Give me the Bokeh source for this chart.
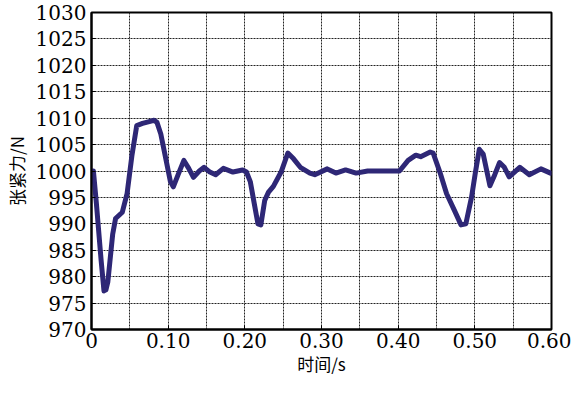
from bokeh.plotting import figure
from bokeh.models import FixedTicker, CustomJSTickFormatter, Range1d, InlineStyleSheet
from bokeh.embed import file_html
from bokeh.resources import INLINE

# time (s) and tension (N)
t = [0.0, 0.0025, 0.0063, 0.0126, 0.0163, 0.0188, 0.0213, 0.0276, 0.0314, 0.0402,
     0.0464, 0.0527, 0.0590, 0.0665, 0.0741, 0.0816, 0.0854, 0.0904, 0.0979, 0.1029,
     0.1067, 0.1130, 0.1205, 0.1268, 0.1330, 0.1406, 0.1469, 0.1544, 0.1619, 0.1720,
     0.1845, 0.1971, 0.2021, 0.2071, 0.2121, 0.2171, 0.2209, 0.2259, 0.2309, 0.2372,
     0.2473, 0.2561, 0.2636, 0.2724, 0.2849, 0.2912, 0.3075, 0.3188, 0.3314, 0.3452,
     0.3602, 0.4017, 0.4130, 0.4230, 0.4293, 0.4418, 0.4456, 0.4544, 0.4632, 0.4732,
     0.4820, 0.4883, 0.4958, 0.5008, 0.5058, 0.5109, 0.5197, 0.5260, 0.5322, 0.5385,
     0.5448, 0.5586, 0.5711, 0.5862, 0.5987]
force = [1000.0, 1000.0, 994.0, 983.0, 977.3, 977.5, 979.0, 988.0, 991.0, 992.2,
         995.7, 1002.9, 1008.6, 1009.0, 1009.3, 1009.6, 1009.2, 1007.0, 1001.6, 998.0,
         997.0, 999.3, 1002.0, 1000.5, 998.8, 1000.0, 1000.7, 999.8, 999.3, 1000.5,
         999.8, 1000.2, 999.8, 998.0, 994.0, 990.0, 989.8, 994.4, 996.0, 997.1,
         999.8, 1003.4, 1002.3, 1000.7, 999.6, 999.3, 1000.4, 999.6, 1000.2, 999.6,
         1000.0, 1000.0, 1002.0, 1003.0, 1002.7, 1003.6, 1003.4, 999.8, 995.7, 992.6,
         989.8, 990.0, 995.1, 999.8, 1004.1, 1003.2, 997.2, 999.3, 1001.6, 1000.7,
         998.9, 1000.7, 999.3, 1000.4, 999.6]

x_major = [0.0, 0.1, 0.2, 0.3, 0.4, 0.5, 0.6]
x_minor = [0.05, 0.15, 0.25, 0.35, 0.45, 0.55]
y_ticks = [970, 975, 980, 985, 990, 995, 1000, 1005, 1010, 1015, 1020, 1025, 1030]

p = figure(width=571, height=378, output_backend="svg", toolbar_location=None,
           x_range=Range1d(0, 0.6), y_range=Range1d(970, 1030),
           min_border_left=83, min_border_right=20, min_border_top=12, min_border_bottom=40)
# inherited default font for any text without its own family
p.stylesheets = [InlineStyleSheet(css=":host { font-family: 'DejaVu Serif', serif; }")]
p.background_fill_color = "white"
p.border_fill_color = "white"
p.outline_line_color = "black"
p.outline_line_width = 2

p.line(t, force, line_color="#2e2776", line_width=5, line_join="round", line_cap="round")

p.xaxis.ticker = FixedTicker(ticks=x_major, minor_ticks=x_minor)
p.xaxis.formatter = CustomJSTickFormatter(code="return tick < 1e-9 ? '0' : tick.toFixed(2);")
p.yaxis.ticker = FixedTicker(ticks=y_ticks)
p.xaxis.major_label_text_font = "DejaVu Serif"
p.yaxis.major_label_text_font = "DejaVu Serif"
for ax in (p.xaxis, p.yaxis):
    ax.major_label_text_font_size = "20px"
    ax.major_label_text_color = "black"
    ax.axis_line_color = "black"
    ax.axis_line_width = 2
    ax.major_tick_in = 4
    ax.major_tick_out = 0
    ax.minor_tick_in = 0
    ax.minor_tick_out = 0
    ax.major_tick_line_color = "black"
    ax.axis_label_text_font = "Noto Sans CJK SC"
    ax.axis_label_text_font_style = "normal"
    ax.axis_label_text_font_size = "17px"
    ax.axis_label_text_color = "black"
p.xaxis.major_label_standoff = 3
p.yaxis.major_label_standoff = 5
p.xaxis.axis_label = "时间/s"
p.yaxis.axis_label = "张紧力/N"
p.xaxis.axis_label_standoff = 0
p.yaxis.axis_label_standoff = 4

p.xgrid.grid_line_color = "#222222"
p.xgrid.grid_line_dash = "2 1"
p.xgrid.grid_line_width = 1
p.xgrid.minor_grid_line_color = "#222222"
p.xgrid.minor_grid_line_dash = "2 1"
p.xgrid.minor_grid_line_width = 1
p.ygrid.grid_line_color = "#222222"
p.ygrid.grid_line_dash = "2 1"
p.ygrid.grid_line_width = 1

open("out.html", "w").write(file_html(p, INLINE))
